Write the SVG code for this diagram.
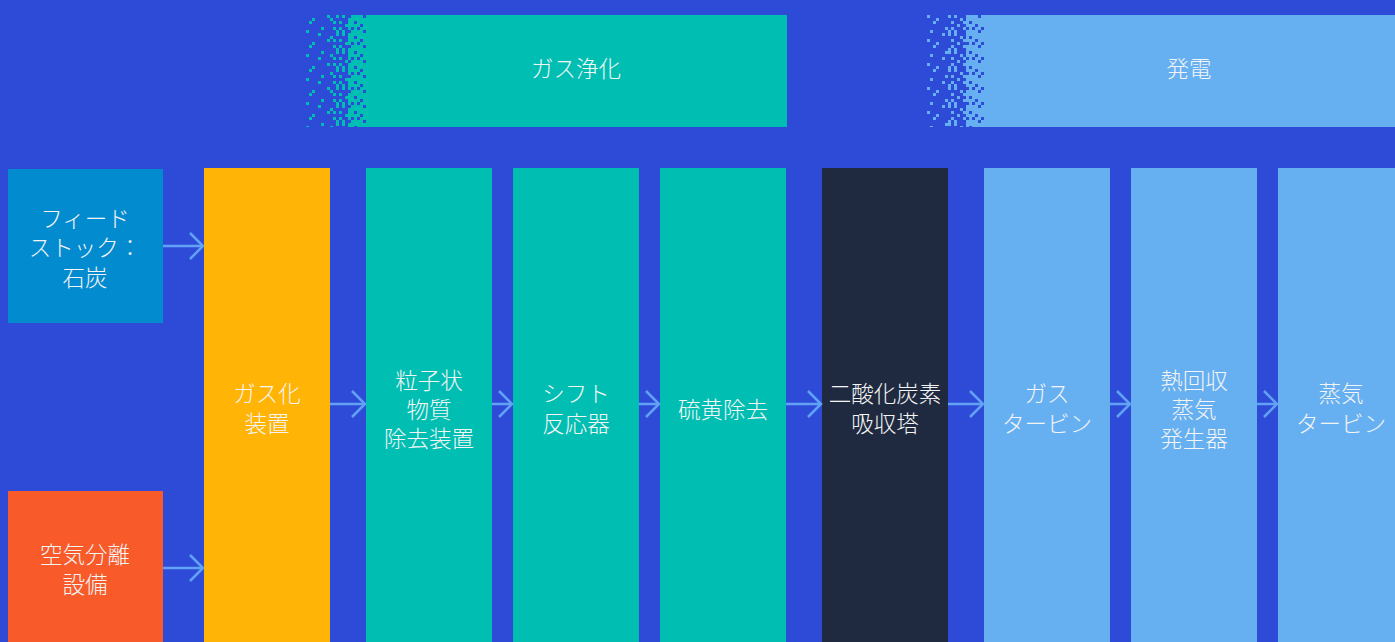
<svg xmlns="http://www.w3.org/2000/svg" width="1395" height="642" viewBox="0 0 1395 642">
<style>
text{font-family:"Noto Sans CJK JP","Noto Sans",sans-serif;font-size:22.5px;font-weight:300;fill:#F4F4F4;text-anchor:middle;dominant-baseline:central}
.arrow{stroke:#62A2F5;stroke-width:2.5;fill:none}
</style>
<defs>
<marker id="ah" markerWidth="16" markerHeight="28" refX="14" refY="14" orient="auto" markerUnits="userSpaceOnUse">
<path d="M1,1 L14,14 L1,27" fill="none" stroke="#62A2F5" stroke-width="2.5"/>
</marker>
<pattern id="tS" x="0" y="15" width="24" height="24" patternUnits="userSpaceOnUse">
<rect x="0" y="3" width="3" height="3" fill="#00BFB2"/><rect x="9" y="12" width="3" height="3" fill="#00BFB2"/><rect x="15" y="0" width="3" height="3" fill="#00BFB2"/><rect x="6" y="18" width="3" height="3" fill="#00BFB2"/><rect x="18" y="15" width="3" height="3" fill="#00BFB2"/><rect x="21" y="6" width="3" height="3" fill="#00BFB2"/>
</pattern>
<pattern id="tM" x="0" y="15" width="18" height="18" patternUnits="userSpaceOnUse">
<rect x="0" y="0" width="3" height="3" fill="#00BFB2"/><rect x="6" y="3" width="3" height="3" fill="#00BFB2"/><rect x="12" y="0" width="3" height="3" fill="#00BFB2"/><rect x="3" y="9" width="3" height="3" fill="#00BFB2"/><rect x="9" y="12" width="3" height="3" fill="#00BFB2"/><rect x="15" y="6" width="3" height="3" fill="#00BFB2"/><rect x="0" y="15" width="3" height="3" fill="#00BFB2"/><rect x="12" y="15" width="3" height="3" fill="#00BFB2"/><rect x="9" y="6" width="3" height="3" fill="#00BFB2"/><rect x="15" y="12" width="3" height="3" fill="#00BFB2"/>
</pattern>
<pattern id="tD" x="0" y="15" width="15" height="15" patternUnits="userSpaceOnUse">
<rect width="15" height="15" fill="#00BFB2"/><rect x="3" y="0" width="3" height="3" fill="#2E4BD8"/><rect x="9" y="6" width="3" height="3" fill="#2E4BD8"/><rect x="0" y="9" width="3" height="3" fill="#2E4BD8"/><rect x="12" y="12" width="3" height="3" fill="#2E4BD8"/><rect x="6" y="12" width="3" height="3" fill="#2E4BD8"/>
</pattern>
<pattern id="bS" x="0" y="15" width="24" height="24" patternUnits="userSpaceOnUse">
<rect x="0" y="3" width="3" height="3" fill="#66B0F2"/><rect x="9" y="12" width="3" height="3" fill="#66B0F2"/><rect x="15" y="0" width="3" height="3" fill="#66B0F2"/><rect x="6" y="18" width="3" height="3" fill="#66B0F2"/><rect x="18" y="15" width="3" height="3" fill="#66B0F2"/><rect x="21" y="6" width="3" height="3" fill="#66B0F2"/>
</pattern>
<pattern id="bM" x="0" y="15" width="18" height="18" patternUnits="userSpaceOnUse">
<rect x="0" y="0" width="3" height="3" fill="#66B0F2"/><rect x="6" y="3" width="3" height="3" fill="#66B0F2"/><rect x="12" y="0" width="3" height="3" fill="#66B0F2"/><rect x="3" y="9" width="3" height="3" fill="#66B0F2"/><rect x="9" y="12" width="3" height="3" fill="#66B0F2"/><rect x="15" y="6" width="3" height="3" fill="#66B0F2"/><rect x="0" y="15" width="3" height="3" fill="#66B0F2"/><rect x="12" y="15" width="3" height="3" fill="#66B0F2"/><rect x="9" y="6" width="3" height="3" fill="#66B0F2"/><rect x="15" y="12" width="3" height="3" fill="#66B0F2"/>
</pattern>
<pattern id="bD" x="0" y="15" width="15" height="15" patternUnits="userSpaceOnUse">
<rect width="15" height="15" fill="#66B0F2"/><rect x="3" y="0" width="3" height="3" fill="#2E4BD8"/><rect x="9" y="6" width="3" height="3" fill="#2E4BD8"/><rect x="0" y="9" width="3" height="3" fill="#2E4BD8"/><rect x="12" y="12" width="3" height="3" fill="#2E4BD8"/><rect x="6" y="12" width="3" height="3" fill="#2E4BD8"/>
</pattern>
</defs>
<rect width="1395" height="642" fill="#2E4BD8"/>

<g id="header-gas-purification">
<rect x="306" y="15" width="24" height="112" fill="url(#tS)"/>
<rect x="330" y="15" width="18" height="112" fill="url(#tM)"/>
<rect x="348" y="15" width="18" height="112" fill="url(#tD)"/>
<rect x="366" y="15" width="421" height="112" fill="#00BFB2"/>
<text x="576" y="67">ガス浄化</text>
</g>
<g id="header-power">
<rect x="924" y="15" width="24" height="112" fill="url(#bS)"/>
<rect x="948" y="15" width="18" height="112" fill="url(#bM)"/>
<rect x="966" y="15" width="18" height="112" fill="url(#bD)"/>
<rect x="984" y="15" width="411" height="112" fill="#66B0F2"/>
<text x="1189" y="67">発電</text>
</g>

<g id="feedstock">
<rect x="8" y="169" width="155" height="154" fill="#038BD0"/>
<text x="85" y="217">フィード</text><text x="85" y="246">ストック：</text><text x="85" y="276">石炭</text>
</g>
<g id="air-separation">
<rect x="8" y="491" width="155" height="151" fill="#F95A2A"/>
<text x="85" y="553">空気分離</text><text x="85" y="583">設備</text>
</g>
<g id="gasifier">
<rect x="204" y="168" width="126" height="474" fill="#FFB406"/>
<text x="267" y="392">ガス化</text><text x="267" y="422">装置</text>
</g>
<g id="particulate">
<rect x="366" y="168" width="126" height="474" fill="#00BFB2"/>
<text x="429" y="379">粒子状</text><text x="429" y="408">物質</text><text x="429" y="437">除去装置</text>
</g>
<g id="shift">
<rect x="513" y="168" width="126" height="474" fill="#00BFB2"/>
<text x="576" y="392">シフト</text><text x="576" y="422">反応器</text>
</g>
<g id="sulfur">
<rect x="660" y="168" width="126" height="474" fill="#00BFB2"/>
<text x="723" y="408">硫黄除去</text>
</g>
<g id="co2">
<rect x="822" y="168" width="126" height="474" fill="#1F2A40"/>
<text x="885" y="392">二酸化炭素</text><text x="885" y="422">吸収塔</text>
</g>
<g id="gas-turbine">
<rect x="984" y="168" width="126" height="474" fill="#66B0F2"/>
<text x="1047" y="392">ガス</text><text x="1047" y="422">タービン</text>
</g>
<g id="hrsg">
<rect x="1131" y="168" width="126" height="474" fill="#66B0F2"/>
<text x="1194" y="379">熱回収</text><text x="1194" y="408">蒸気</text><text x="1194" y="437">発生器</text>
</g>
<g id="steam-turbine">
<rect x="1278" y="168" width="117" height="474" fill="#66B0F2"/>
<text x="1341" y="392">蒸気</text><text x="1341" y="422">タービン</text>
</g>

<g id="connectors" class="arrow">
<line x1="163" y1="246" x2="203" y2="246" marker-end="url(#ah)"/>
<line x1="163" y1="568" x2="203" y2="568" marker-end="url(#ah)"/>
<line x1="330" y1="404" x2="365" y2="404" marker-end="url(#ah)"/>
<line x1="492" y1="404" x2="512" y2="404" marker-end="url(#ah)"/>
<line x1="639" y1="404" x2="659" y2="404" marker-end="url(#ah)"/>
<line x1="786" y1="404" x2="821" y2="404" marker-end="url(#ah)"/>
<line x1="948" y1="404" x2="983" y2="404" marker-end="url(#ah)"/>
<line x1="1110" y1="404" x2="1130" y2="404" marker-end="url(#ah)"/>
<line x1="1257" y1="404" x2="1277" y2="404" marker-end="url(#ah)"/>
</g>
</svg>
